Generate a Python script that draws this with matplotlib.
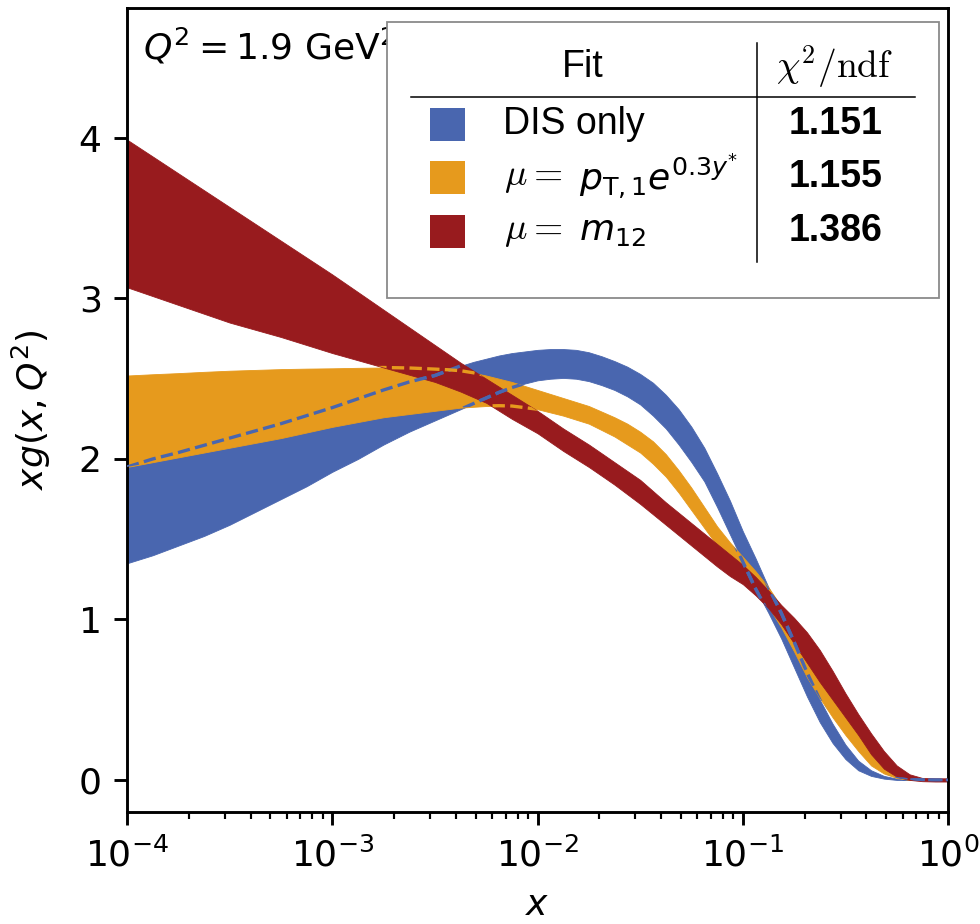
import matplotlib
matplotlib.use('Agg')
import matplotlib.pyplot as plt
from matplotlib.patches import Rectangle
from matplotlib.lines import Line2D

# ---- data ----
x = [1.000e-4, 1.334e-4, 1.778e-4, 2.371e-4, 3.162e-4, 4.217e-4, 5.623e-4, 7.499e-4,
     1.000e-3, 1.334e-3, 1.778e-3, 2.371e-3,
     3.162e-3, 3.652e-3, 4.217e-3, 4.870e-3, 5.623e-3, 6.494e-3, 7.499e-3, 8.660e-3,
     1.000e-2, 1.155e-2, 1.334e-2, 1.540e-2, 1.778e-2, 2.054e-2, 2.371e-2, 2.738e-2,
     3.162e-2, 3.652e-2, 4.217e-2, 4.870e-2, 5.623e-2, 6.494e-2, 7.499e-2, 8.660e-2,
     0.1000, 0.1155, 0.1334, 0.1540, 0.1778, 0.2054, 0.2371, 0.2738,
     0.3162, 0.3652, 0.4217, 0.4870, 0.5623, 0.6494, 0.7499, 0.8660, 1.0]

dis_lo = [1.35, 1.40, 1.46, 1.52, 1.59, 1.67, 1.75, 1.83, 1.92, 2.00, 2.09, 2.17,
          2.24, 2.275, 2.31, 2.345, 2.38, 2.415, 2.445, 2.47,
          2.49, 2.50, 2.505, 2.50, 2.485, 2.46, 2.43, 2.39,
          2.34, 2.27, 2.19, 2.09, 1.98, 1.86, 1.70, 1.53,
          1.36, 1.19, 1.04, 0.88, 0.70, 0.52, 0.36, 0.23,
          0.13, 0.06, 0.025, 0.008, 0.0, 0.0, 0.0, 0.0, 0.0]
dis_hi = [1.95, 2.00, 2.04, 2.085, 2.13, 2.175, 2.22, 2.27, 2.32, 2.375, 2.43, 2.48,
          2.52, 2.55, 2.58, 2.605, 2.625, 2.645, 2.66, 2.67,
          2.68, 2.685, 2.685, 2.68, 2.665, 2.64, 2.61, 2.575,
          2.53, 2.475, 2.40, 2.31, 2.20, 2.07, 1.91, 1.74,
          1.55, 1.38, 1.20, 1.04, 0.86, 0.67, 0.50, 0.35,
          0.22, 0.12, 0.06, 0.025, 0.008, 0.0, 0.0, 0.0, 0.0]

pt_lo = [1.95, 1.98, 2.01, 2.04, 2.07, 2.10, 2.13, 2.165, 2.20, 2.23, 2.26, 2.28,
         2.30, 2.31, 2.32, 2.325, 2.33, 2.332, 2.33, 2.32,
         2.31, 2.29, 2.27, 2.245, 2.22, 2.18, 2.14, 2.09,
         2.04, 1.97, 1.89, 1.79, 1.68, 1.57, 1.46, 1.36,
         1.27, 1.18, 1.08, 0.95, 0.80, 0.64, 0.51, 0.39,
         0.28, 0.18, 0.09, 0.04, 0.012, 0.0, 0.0, 0.0, 0.0]
pt_hi = [2.52, 2.528, 2.535, 2.543, 2.55, 2.555, 2.56, 2.563, 2.565, 2.568, 2.57, 2.567,
         2.56, 2.556, 2.55, 2.537, 2.52, 2.50, 2.48, 2.455,
         2.43, 2.405, 2.38, 2.355, 2.33, 2.295, 2.26, 2.22,
         2.17, 2.11, 2.03, 1.93, 1.82, 1.70, 1.58, 1.48,
         1.39, 1.30, 1.20, 1.08, 0.92, 0.77, 0.64, 0.52,
         0.41, 0.30, 0.18, 0.085, 0.03, 0.01, 0.0, 0.0, 0.0]

m12_lo = [3.07, 3.015, 2.96, 2.905, 2.85, 2.805, 2.76, 2.71, 2.66, 2.615, 2.57, 2.525,
          2.48, 2.45, 2.42, 2.385, 2.35, 2.30, 2.25, 2.205,
          2.16, 2.105, 2.05, 2.00, 1.95, 1.895, 1.84, 1.78,
          1.72, 1.655, 1.59, 1.525, 1.46, 1.395, 1.33, 1.27,
          1.22, 1.15, 1.07, 0.97, 0.85, 0.73, 0.61, 0.50,
          0.39, 0.28, 0.16, 0.07, 0.02, 0.0, -0.008, -0.01, -0.01]
m12_hi = [3.99, 3.885, 3.78, 3.675, 3.57, 3.465, 3.36, 3.255, 3.15, 3.04, 2.93, 2.82,
          2.71, 2.655, 2.60, 2.55, 2.50, 2.45, 2.40, 2.35,
          2.30, 2.245, 2.19, 2.14, 2.09, 2.035, 1.98, 1.925,
          1.87, 1.80, 1.73, 1.665, 1.60, 1.535, 1.47, 1.405,
          1.34, 1.265, 1.18, 1.09, 1.01, 0.92, 0.81, 0.68,
          0.54, 0.41, 0.29, 0.18, 0.09, 0.035, 0.012, 0.01, 0.01]

fit_names = ['DIS only', 'pt', 'm12']
chi2_ndf = ['1.151', '1.155', '1.386']
colors = ['#4966AF', '#E69A1D', '#981B1E']

yticks = [0, 1, 2, 3, 4]

# ---- figure ----
s = 2.6  # overall scale of line widths / fonts
fig = plt.figure(figsize=(9.8, 9.24), dpi=100)
ax = fig.add_axes([0.1296, 0.1212, 0.8378, 0.8701])

bands = [(dis_lo, dis_hi), (pt_lo, pt_hi), (m12_lo, m12_hi)]
polys = []
for (lo, hi), c, z in zip(bands, colors, [2, 2.1, 2.2]):
    p = ax.fill_between(x, lo, hi, color=c, lw=0.6, zorder=z)
    polys.append(p)


def dashed(xv, yv, color, clip_poly):
    ln, = ax.plot(xv, yv, ls='--', lw=2.4, color=color, zorder=4)
    ln.set_clip_path(clip_poly.get_paths()[0], ax.transData)


# band edges drawn dashed, visible where they pass over other bands
for yv in (dis_lo, dis_hi):
    dashed(x, yv, colors[0], polys[1])
    dashed(x, yv, colors[0], polys[2])
n_low = 25  # orange edges only show through the red band at small x
for yv in (pt_lo, pt_hi):
    dashed(x[:n_low], yv[:n_low], colors[1], polys[2])

ax.set_xscale('log')
ax.set_xlim(1e-4, 1.0)
ax.set_ylim(-0.2, 4.81)
ax.set_yticks(yticks)

for sp in ax.spines.values():
    sp.set_linewidth(0.8 * s)
ax.tick_params(which='major', length=3.5 * s, width=0.8 * s, pad=3.5 * s,
               labelsize=26)
ax.tick_params(which='minor', length=2.0 * s, width=0.6 * s)

ax.set_xlabel('$x$', fontsize=26, labelpad=4 * s)
ax.set_ylabel(r'$xg(x,Q^2)$', fontsize=26, labelpad=4 * s + 8)

ax.text(0.0195, 0.9366, r'$Q^2 = 1.9$ GeV$^2$', transform=ax.transAxes,
        fontsize=26, va='baseline', ha='left', zorder=6)

# ---- legend table ----
T = ax.transAxes
ax.add_patch(Rectangle((0.3167, 0.6393), 0.6723, 0.3433, transform=T,
                       facecolor='white', edgecolor='#8a8a8a', lw=1.3,
                       zorder=10))
ax.add_line(Line2D([0.3459, 0.9598], [0.8893, 0.8893], transform=T,
                   color='black', lw=1.1, zorder=11))
ax.add_line(Line2D([0.7674, 0.7674], [0.6841, 0.9565], transform=T,
                   color='black', lw=1.1, zorder=11))

sans = 'Liberation Sans'
fs = 27
ax.text(0.5554, 0.9266, 'Fit', transform=T, fontsize=fs, family=sans,
        ha='center', va='center', zorder=12)
ax.text(0.8624, 0.9266, r'$\chi^2/\mathrm{ndf}$', transform=T, fontsize=fs,
        math_fontfamily='cm', ha='center', va='center', zorder=12)

row_y = [0.8557, 0.7898, 0.7226]
sq_w, sq_h = 0.0426, 0.041
for yy, c, name, val in zip(row_y, colors, fit_names, chi2_ndf):
    ax.add_patch(Rectangle((0.3691, yy - sq_h / 2), sq_w, sq_h, transform=T,
                           facecolor=c, edgecolor='none', zorder=12))
    ax.text(0.8624, yy, val, transform=T, fontsize=fs, family=sans,
            fontweight='bold', ha='center', va='center', zorder=12)

ax.text(0.458, row_y[0], fit_names[0], transform=T, fontsize=fs, family=sans,
        ha='left', va='center', zorder=12)
for yy, rest in zip(row_y[1:], [r'$p_{\mathrm{T},1}e^{0.3y^{*}}$',
                                 r'$m_{12}$']):
    ax.text(0.4593, yy, r'$\mu =$', transform=T, fontsize=fs,
            math_fontfamily='cm', ha='left', va='center', zorder=12)
    ax.text(0.5505, yy, rest, transform=T, fontsize=fs - 1,
            math_fontfamily='dejavusans', ha='left', va='center', zorder=12)

fig.savefig('out.png', dpi=100)
